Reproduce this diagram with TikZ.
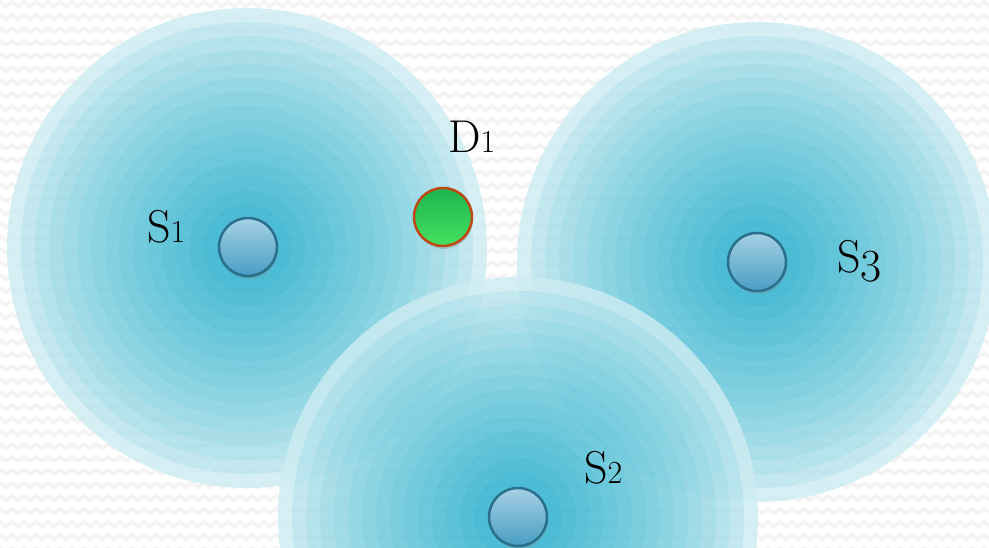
\documentclass[tikz,border=0pt]{standalone}
\usepackage{fontspec}
\usetikzlibrary{shadows}
\definecolor{haloin}{RGB}{30,172,202}
\definecolor{haloout}{RGB}{205,236,242}
\definecolor{bgzig}{RGB}{243,243,243}
\definecolor{balltop}{RGB}{165,208,228}
\definecolor{ballbot}{RGB}{72,158,195}
\definecolor{balledge}{RGB}{42,112,140}
\definecolor{greentop}{RGB}{28,180,78}
\definecolor{greenbot}{RGB}{70,225,95}
\definecolor{greenedge}{RGB}{190,72,20}
\newcommand\osx[1]{{\fontsize{32}{32}\selectfont #1}}
\newcommand\osd[1]{\raisebox{-9pt}{#1}}
\tikzset{
  zig/.style={draw=bgzig, line width=3.5pt},
  ball/.style={circle, minimum size=58pt, inner sep=0pt, line width=2.5pt,
    draw=balledge, top color=balltop, bottom color=ballbot,
    drop shadow={shadow xshift=1pt, shadow yshift=-3pt, opacity=0.3}},
  dball/.style={ball, draw=greenedge, top color=greentop, bottom color=greenbot},
  lab/.style={anchor=base west, inner sep=0pt, font=\fontsize{46}{50}\selectfont}
}
\begin{document}
\begin{tikzpicture}[x=1pt,y=-1pt]
\useasboundingbox (0,0) rectangle (989,548);
\begin{scope}
\clip (0,0) rectangle (989,548);
\fill[white] (0,0) rectangle (989,548);
\foreach \y in {6,19,...,560}
  \draw[zig] (-6,\y) \foreach \x in {0,...,84} { -- ++(6,-4) -- ++(6,4) };
\foreach \cx/\cy in {247/248,757/262,518/517}{
  \begin{scope}[transparency group, opacity=0.82]
  \foreach \i in {0,...,15}{
    \pgfmathsetmacro\p{100*(\i/15)^0.75}
    \fill[haloin!\p!haloout] (\cx,\cy) circle ({240pt-\i*14pt});
  }
  \end{scope}
}
\end{scope}
\node[ball] (s1) at (248,247) {};
\node[ball] (s3) at (757,262) {};
\node[ball] (s2) at (518,517) {};
\node[dball] (d1) at (443,217) {};
\node[lab] (ls1) at (147,243) {S\osx{1}};
\node[lab] (ld1) at (448,153) {D\osx{1}};
\node[lab] (ls3) at (837,273) {S\osd{3}};
\node[lab] (ls2) at (584,483) {S\osx{2}};
\end{tikzpicture}
\end{document}
